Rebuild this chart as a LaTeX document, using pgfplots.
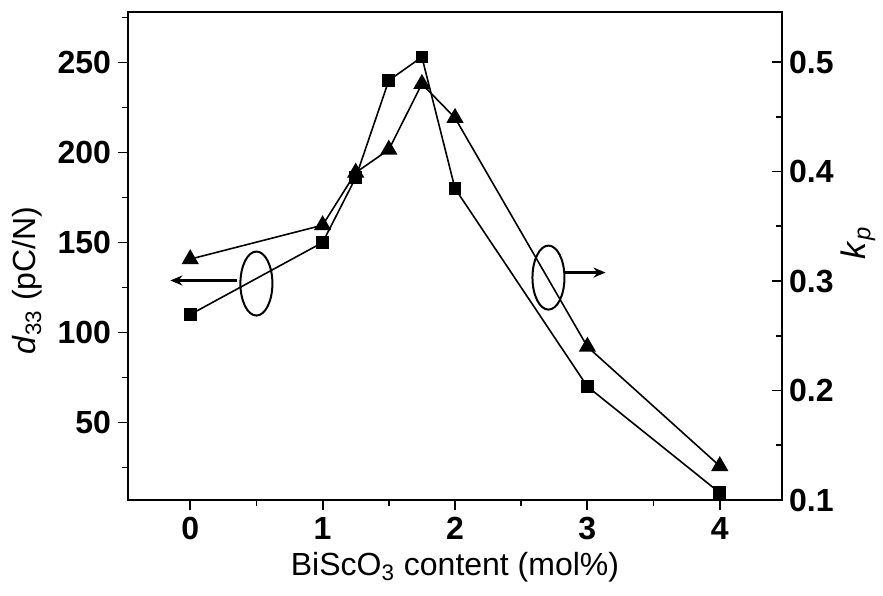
\documentclass[border=0pt]{standalone}
\usepackage{fontspec}
\setmainfont{Liberation Sans}
\usepackage{pgfplots}
\pgfplotsset{compat=1.18}
\usetikzlibrary{arrows.meta}
\pgfplotstableread{
x d33
0 110
1 150
1.25 186
1.5 240
1.75 253
2 180
3 70
4 11
}\dthree
\pgfplotstableread{
x kp
0 0.32
1 0.351
1.25 0.399
1.5 0.420
1.75 0.480
2 0.449
3 0.240
4 0.131
}\kptab
\begin{document}
\begin{tikzpicture}
\useasboundingbox (-64pt,-47.5pt) rectangle (377.5pt,250pt);
\pgfplotsset{
  common/.style={
    at={(0,0)}, anchor=south west,
    width=327pt, height=244pt, scale only axis,
    xmin=-0.47, xmax=4.47,
    major tick length=5pt, minor tick length=3pt,
    every tick/.style={line width=0.9pt, black},
    axis line style={line width=1pt},
    /pgf/number format/assume math mode=true,
    tick label style={font=\fontsize{16}{19}\selectfont\bfseries},
    label style={font=\fontsize{16}{19}\selectfont},
  }
}
\begin{axis}[common,
  ymin=7, ymax=278,
  xtick={0,1,2,3,4}, minor xtick={-0.5,0.5,1.5,2.5,3.5,4.5},
  ytick={50,100,150,200,250}, minor ytick={25,75,125,175,225,275},
  xtick pos=bottom, ytick pos=left, tick align=outside,
  xlabel={BiScO\textsubscript{3} content (mol\%)},
  ylabel={\textit{d}\textsubscript{33} (pC/N)},
  xlabel style={at={(axis description cs:0.5,0)}, anchor=base, yshift=-37.5pt},
  ylabel style={at={(axis description cs:-0.1407,0.45)}, anchor=base},
]
\addplot[black, line width=0.8pt, mark=square*, mark size=2.8pt] table[x=x,y=d33] {\dthree};
\draw[line width=1pt] (axis cs:0.5,127.2) ellipse [x radius=8pt, y radius=16pt];
\draw[line width=1.2pt, -{Stealth[length=6pt,width=5pt]}] (axis cs:0.355,128.9) -- (axis cs:-0.15,128.9);
\draw[line width=1pt] (axis cs:2.706,130.5) ellipse [x radius=8pt, y radius=16pt];
\draw[line width=1.2pt, -{Stealth[length=6pt,width=5pt]}] (axis cs:2.834,133.3) -- (axis cs:3.137,133.3);
\end{axis}
\begin{axis}[common,
  ymin=0.1, ymax=0.5457,
  axis x line=none, axis y line*=right,
  tick align=inside,
  ytick={0.1,0.2,0.3,0.4,0.5}, minor ytick={0.15,0.25,0.35,0.45,0.55},
  yticklabel style={/pgf/number format/.cd, fixed, fixed zerofill, precision=1},
  ylabel={\textit{k}\textsubscript{\textit{p}}},
  ylabel style={at={(axis description cs:1.127,0.527)}, anchor=base, font=\fontsize{17}{20}\selectfont},
]
\addplot[black, line width=0.8pt, mark=triangle*, mark size=4.2pt] table[x=x,y=kp] {\kptab};
\end{axis}
\end{tikzpicture}
\end{document}
